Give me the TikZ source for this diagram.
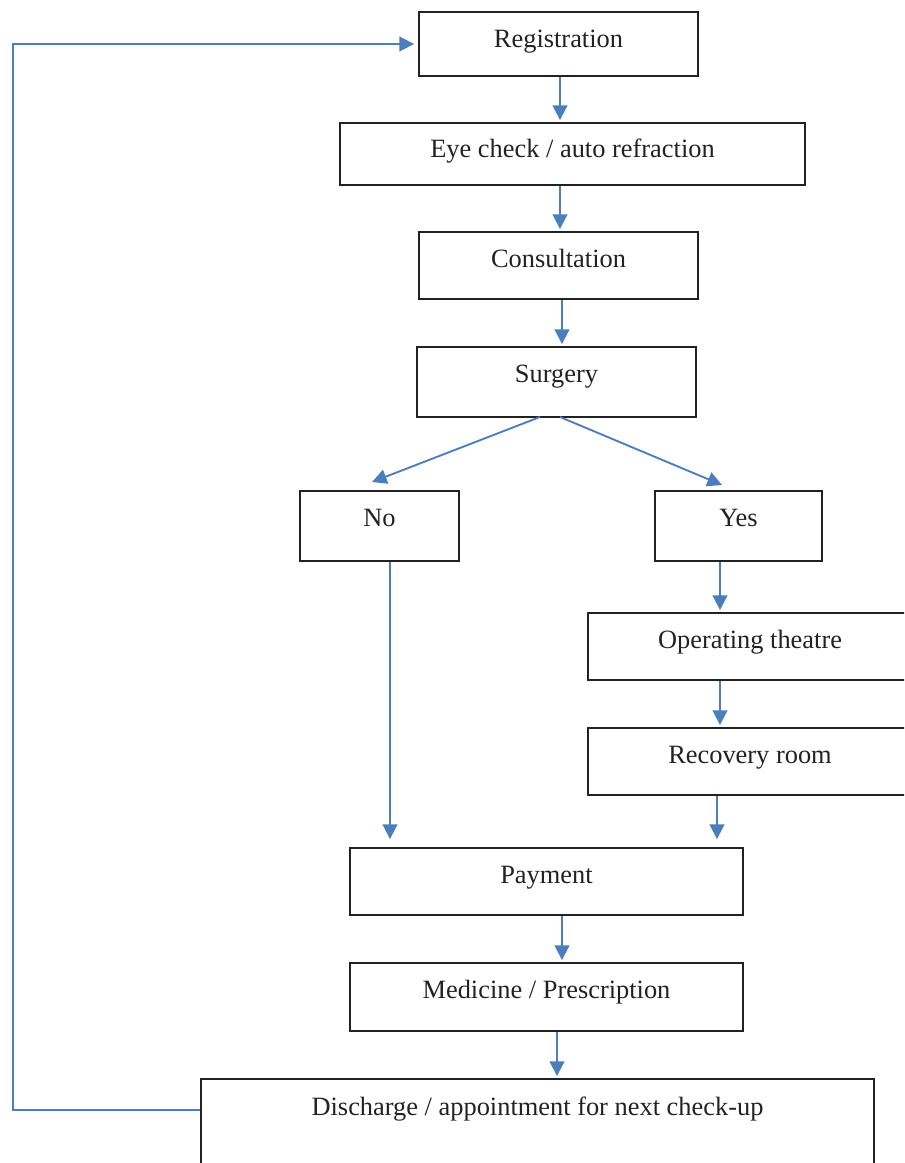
\documentclass[tikz,border=0pt]{standalone}
\usepackage{fontspec}
\setmainfont{Liberation Serif}
\usetikzlibrary{arrows.meta,fit,calc}
\definecolor{flowblue}{HTML}{4A7EBF}
\definecolor{boxline}{HTML}{222222}
\tikzset{
  box/.style={draw=boxline, line width=1.4pt, inner sep=0pt, rectangle},
  txt/.style={anchor=base, inner sep=0pt, text=boxline, font=\fontsize{19.8}{23}\selectfont},
  arr/.style={draw=flowblue, line width=1.4pt, -{Triangle[length=11pt,width=11pt]}, shorten >=1.5pt},
}
\begin{document}
\begin{tikzpicture}[x=0.75pt,y=-0.75pt]
\useasboundingbox (0,0) rectangle (904,1163);
\clip (0,0) rectangle (904,1163);
% boxes
\node[box, fit={(419,12) (698,76)}] (reg) {};
\node[box, fit={(340,123) (805,185)}] (eye) {};
\node[box, fit={(419,232) (698,299)}] (cons) {};
\node[box, fit={(417,347) (696,417)}] (surg) {};
\node[box, fit={(300,491) (459,561)}] (no) {};
\node[box, fit={(655,491) (822,561)}] (yes) {};
\node[box, fit={(588,613) (912,680)}] (op) {};
\node[box, fit={(588,728) (912,795)}] (rec) {};
\node[box, fit={(350,848) (743,915)}] (pay) {};
\node[box, fit={(350,963) (743,1031)}] (med) {};
\node[box, fit={(201,1079) (874,1200)}] (dis) {};
% texts
\node[txt] (regt)  at ($(reg.north)+(0,36)$) {Registration};
\node[txt] (eyet)  at ($(eye.north)+(0,35)$) {Eye check / auto refraction};
\node[txt] (const) at ($(cons.north)+(0,36)$) {Consultation};
\node[txt] (surgt) at ($(surg.north)+(0,36)$) {Surgery};
\node[txt] (not)   at ($(no.north)+(0,36)$) {No};
\node[txt] (yest)  at ($(yes.north)+(0,36)$) {Yes};
\node[txt] (opt)   at ($(op.north)+(0,36)$) {Operating theatre};
\node[txt] (rect)  at ($(rec.north)+(0,36)$) {Recovery room};
\node[txt] (payt)  at ($(pay.north)+(0,36)$) {Payment};
\node[txt] (medt)  at ($(med.north)+(0,36)$) {Medicine / Prescription};
\node[txt] (dist)  at ($(dis.north)+(0,37)$) {Discharge / appointment for next check-up};
% helper coordinates
\coordinate (xa) at (560,0);
\coordinate (xb) at (562,0);
\coordinate (xc) at (720,0);
\coordinate (xd) at (717,0);
\coordinate (xe) at (390,0);
\coordinate (xf) at (557,0);
\coordinate (xl) at (13,0);
\coordinate (yl) at (0,1110);
\coordinate (sn) at (540,417);
\coordinate (sy) at (560,417);
\coordinate (tn) at (372,482);
\coordinate (ty) at (722,485);
% connectors
\draw[arr] (reg.south -| xa) -- (eye.north -| xa);
\draw[arr] (eye.south -| xa) -- (cons.north -| xa);
\draw[arr] (cons.south -| xb) -- (surg.north -| xb);
\draw[arr, shorten >=0pt] (sn) -- (tn);
\draw[arr, shorten >=0pt] (sy) -- (ty);
\draw[arr] (yes.south -| xc) -- (op.north -| xc);
\draw[arr] (op.south -| xc) -- (rec.north -| xc);
\draw[arr, shorten >=6pt] (rec.south -| xd) -- (pay.north -| xd);
\draw[arr, shorten >=6pt] (no.south -| xe) -- (pay.north -| xe);
\draw[arr] (pay.south -| xb) -- (med.north -| xb);
\draw[arr] (med.south -| xf) -- (dis.north -| xf);
\draw[arr, shorten >=3pt] (dis.west |- yl) -- (xl |- yl) |- (reg.west);
\end{tikzpicture}
\end{document}
